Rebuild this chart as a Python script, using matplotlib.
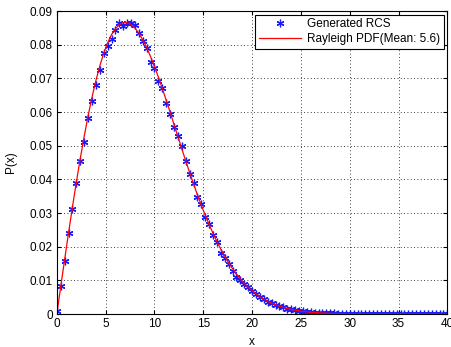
import numpy as np
import matplotlib
matplotlib.use('Agg')
import matplotlib.pyplot as plt

plt.rcParams['font.family'] = ['Liberation Sans', 'DejaVu Sans']

# histogram estimate of the generated RCS samples
rcs = [0.0008, 0.0082, 0.0158, 0.0240, 0.0312, 0.0389, 0.0455, 0.0512, 0.0581, 0.0634,
       0.0681, 0.0724, 0.0776, 0.0795, 0.0818, 0.0845, 0.0864, 0.0857, 0.0866, 0.0865,
       0.0860, 0.0836, 0.0812, 0.0790, 0.0750, 0.0730, 0.0692, 0.0671, 0.0626, 0.0594,
       0.0557, 0.0528, 0.0498, 0.0455, 0.0416, 0.0390, 0.0347, 0.0326, 0.0288, 0.0268,
       0.0234, 0.0213, 0.0180, 0.0167, 0.0149, 0.0129, 0.0109, 0.0102, 0.0090, 0.0079,
       0.0068, 0.0060, 0.0051, 0.0045, 0.0037, 0.0032, 0.0028, 0.0023, 0.0020, 0.0016,
       0.0014, 0.0012, 0.0009, 0.0008, 0.0007, 0.0005, 0.0004, 0.0004, 0.0003, 0.0002,
       0.0002, 0.0002, 0.0001, 0.0001, 0.0001, 0.0001, 0.0, 0.0, 0.0, 0.0,
       0.0, 0.0, 0.0, 0.0, 0.0, 0.0, 0.0, 0.0, 0.0, 0.0,
       0.0, 0.0, 0.0, 0.0, 0.0, 0.0, 0.0, 0.0, 0.0, 0.0, 0.0]

# Rayleigh pdf curve values on the same grid
pdf = [0.0, 0.00815, 0.01622, 0.02413, 0.03181, 0.03918, 0.04618, 0.05275, 0.05883, 0.06437,
       0.06934, 0.07370, 0.07744, 0.08053, 0.08299, 0.08480, 0.08599, 0.08658, 0.08658, 0.08603,
       0.08497, 0.08344, 0.08149, 0.07916, 0.07650, 0.07356, 0.07039, 0.06704, 0.06355, 0.05997,
       0.05634, 0.05270, 0.04908, 0.04552, 0.04204, 0.03867, 0.03542, 0.03232, 0.02936, 0.02658,
       0.02396, 0.02151, 0.01925, 0.01715, 0.01523, 0.01347, 0.01187, 0.01041, 0.00911, 0.00794,
       0.00689, 0.00596, 0.00514, 0.00441, 0.00377, 0.00322, 0.00273, 0.00231, 0.00195, 0.00164,
       0.00137, 0.00115, 0.00095, 0.00079, 0.00065, 0.00054, 0.00044, 0.00036, 0.00029, 0.00024,
       0.00019, 0.00015, 0.00012, 0.00010, 0.00008, 0.00006, 0.00005, 0.00004, 0.00003, 0.00002,
       0.00002, 0.00001, 0.00001, 0.00001, 0.0, 0.0, 0.0, 0.0, 0.0, 0.0,
       0.0, 0.0, 0.0, 0.0, 0.0, 0.0, 0.0, 0.0, 0.0, 0.0, 0.0]

x = np.linspace(0, 40, len(rcs))

fig = plt.figure(figsize=(4.51, 3.47), dpi=100)
ax = fig.add_axes([0.126, 0.095, 0.866, 0.873])

ax.plot(x, rcs, linestyle='none', marker=(6, 2, 0), color='#1a1aff', markersize=5.5,
        markeredgewidth=0.9, label='Generated RCS')
ax.plot(x, pdf, color='r', linewidth=0.9, label='Rayleigh PDF(Mean: 5.6)')

ax.set_xlim(0, 40)
ax.set_ylim(0, 0.09)
ax.set_xticks(range(0, 41, 5))
ax.set_yticks(np.arange(0, 0.091, 0.01))
ax.set_yticklabels(['0', '0.01', '0.02', '0.03', '0.04', '0.05', '0.06', '0.07', '0.08', '0.09'])
ax.tick_params(direction='in', top=True, right=True, labelsize=8.5, length=3, pad=3)
ax.grid(True, color='black', linestyle=(0, (1, 3)), linewidth=0.6)
for s in ax.spines.values():
    s.set_linewidth(0.8)

ax.set_xlabel('x', fontsize=8.5, labelpad=4)
ax.set_ylabel('P(x)', fontsize=8.5, labelpad=9)

leg = ax.legend(loc='upper right', fontsize=8.5, numpoints=1, fancybox=False,
                framealpha=1, edgecolor='black', borderaxespad=0.3,
                handlelength=3.6, handletextpad=0.5, borderpad=0.3, labelspacing=0.25)
leg.get_frame().set_linewidth(0.8)

fig.savefig('out.png', dpi=100)
